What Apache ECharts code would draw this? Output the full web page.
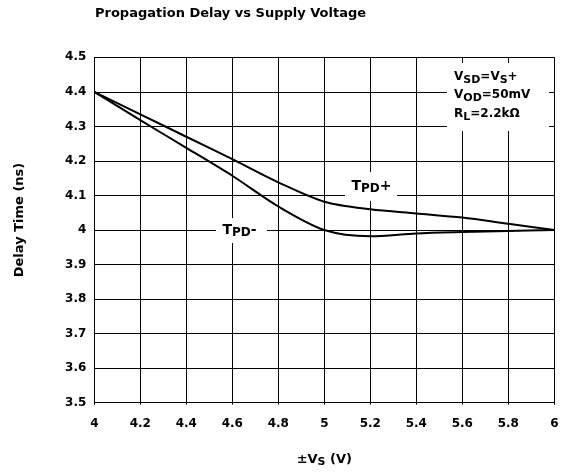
<!DOCTYPE html>
<html><head><meta charset="utf-8">
<script src="https://cdn.jsdelivr.net/npm/echarts@6/dist/echarts.min.js"></script>
<style>html,body{margin:0;padding:0;background:#fff}#c{width:565px;height:474px}</style>
</head><body><div id="c"></div>
<script>
const supplyV = [4.0, 4.2, 4.4, 4.6, 4.8, 5.0, 5.2, 5.4, 5.6, 5.8, 6.0];
const tpdPlus = [4.4, 4.335, 4.27, 4.205, 4.138, 4.082, 4.06, 4.048, 4.036, 4.018, 4.0];
const tpdMinus = [4.4, 4.318, 4.238, 4.157, 4.068, 4.0, 3.982, 3.99, 3.994, 3.997, 4.0];
const xTicks = [4, 4.2, 4.4, 4.6, 4.8, 5, 5.2, 5.4, 5.6, 5.8, 6];
const yTicks = [3.5, 3.6, 3.7, 3.8, 3.9, 4, 4.1, 4.2, 4.3, 4.4, 4.5];

const FONT = '"DejaVu Sans", sans-serif';
const chart = echarts.init(document.getElementById('c'), null, {renderer: 'canvas'});
const pair = (xs, ys) => xs.map((x, i) => [x, ys[i]]);
const sub = (size, pad) => ({fontSize: size, fontWeight: 'bold', fontFamily: FONT, color: '#000', padding: [pad, 0, 0, 0]});
const lbl = (text, x, y, size, subSize, align) => ({
  type: 'text', z: 51, x: x, y: y,
  style: {text: text, align: align || 'center', verticalAlign: 'middle',
          font: 'bold ' + size + 'px ' + FONT, fill: '#000',
          rich: {s: {fontSize: subSize, fontWeight: 'bold', fontFamily: FONT, fill: '#000', padding: [6, 0, 0, 0]}}}
});
const box = (x, y, w, h) => ({type: 'rect', z: 50, shape: {x: x, y: y, width: w, height: h}, style: {fill: '#fff'}});

chart.setOption({
  animation: false,
  backgroundColor: '#fff',
  title: {
    text: 'Propagation Delay vs Supply Voltage',
    left: 90, top: 2,
    textStyle: {fontSize: 13, fontWeight: 'bold', fontFamily: FONT, color: '#000'}
  },
  grid: {left: 94.3, right: 10.7, top: 57.3, bottom: 71.3, containLabel: false},
  xAxis: {
    type: 'value', min: 4, max: 6, interval: 0.2,
    axisLine: {show: true, lineStyle: {color: '#000', width: 1}},
    axisTick: {show: true, length: 2, lineStyle: {color: '#000', width: 1}},
    splitLine: {show: true, lineStyle: {color: '#000', width: 1}},
    axisLabel: {
      margin: 15, color: '#000', fontSize: 12, fontWeight: 'bold', fontFamily: FONT,
      formatter: v => { const t = xTicks.find(k => Math.abs(k - v) < 1e-6); return t === undefined ? '' : String(t); }
    },
    name: '±V{s|S} (V)',
    nameLocation: 'middle', nameGap: 48,
    nameTextStyle: {
      fontSize: 13, fontWeight: 'bold', fontFamily: FONT, color: '#000',
      rich: {s: sub(11, 6)}
    }
  },
  yAxis: {
    type: 'value', min: 3.5, max: 4.5, interval: 0.1,
    axisLine: {show: true, lineStyle: {color: '#000', width: 1}},
    axisTick: {show: false},
    splitLine: {show: true, lineStyle: {color: '#000', width: 1}},
    axisLabel: {
      margin: 8, color: '#000', fontSize: 12, fontWeight: 'bold', fontFamily: FONT,
      formatter: v => { const t = yTicks.find(k => Math.abs(k - v) < 1e-6); return t === undefined ? '' : String(t); }
    }
  },
  series: [
    {name: 'TPD+', type: 'line', data: pair(supplyV, tpdPlus), smooth: 0.3, showSymbol: false,
     lineStyle: {color: '#000', width: 2}, z: 5},
    {name: 'TPD-', type: 'line', data: pair(supplyV, tpdMinus), smooth: 0.3, showSymbol: false,
     lineStyle: {color: '#000', width: 2}, z: 5}
  ],
  graphic: [
    {type: 'text', z: 51, x: 20, y: 220, rotation: Math.PI / 2,
     style: {text: 'Delay Time (ns)', align: 'center', verticalAlign: 'middle',
             font: 'bold 13px ' + FONT, fill: '#000'}},
    box(345, 172, 52, 29),
    lbl('T{s|PD}+', 371.5, 186, 14, 12),
    box(216, 218, 51, 25),
    lbl('T{s|PD}-', 239.5, 230, 14, 12),
    box(447, 63, 102, 68),
    lbl('V{s|SD}=V{s|S}+', 454, 77, 12, 11, 'left'),
    lbl('V{s|OD}=50mV', 454, 95, 12, 11, 'left'),
    lbl('R{s|L}=2.2kΩ', 454, 114, 12, 11, 'left')
  ]
});
</script></body></html>
